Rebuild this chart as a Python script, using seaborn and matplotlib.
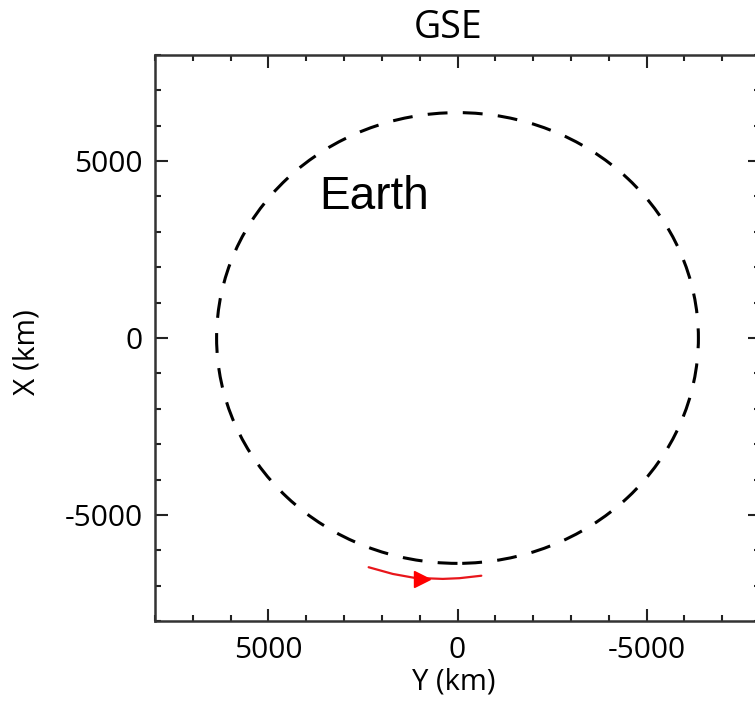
import matplotlib
matplotlib.use("Agg")
import matplotlib.pyplot as plt
import seaborn as sns
from matplotlib.patches import Circle
from matplotlib.ticker import MultipleLocator

# Earth outline (km)
earth_radius = 6371.0

# Spacecraft track (GSE, km)
track_y = [2350, 1710, 1140, 390, -50, -630]
track_x = [-6480, -6670, -6780, -6810, -6790, -6720]

# direction arrow position on the track
arrow_y = [950]
arrow_x = [-6800]

x_ticks = [5000, 0, -5000]
y_ticks = [5000, 0, -5000]

sns.set_style("ticks")
plt.rcParams["font.family"] = ["Open Sans", "DejaVu Sans"]
plt.rcParams["text.color"] = "black"
plt.rcParams["axes.labelcolor"] = "black"
plt.rcParams["xtick.labelcolor"] = "black"
plt.rcParams["ytick.labelcolor"] = "black"

fig = plt.figure(figsize=(7.55, 7.01), dpi=100)
ax = fig.add_axes([155 / 755, 80 / 701, 605 / 755, 566 / 701])

# Earth: dashed circle in data coordinates
ax.add_patch(Circle((0, 0), earth_radius, fill=False, edgecolor="black",
                    linewidth=2.2, linestyle=(0, (6.5, 5.0))))

sns.lineplot(x=track_y, y=track_x, sort=False, estimator=None,
             color="#e8161b", linewidth=1.6, ax=ax)
ax.plot(arrow_y, arrow_x, marker=">", markersize=12, color="#ff0000",
        linestyle="none")

ax.text(3650, 3640, "Earth", fontsize=33, family=["Liberation Sans", "DejaVu Sans"],
        ha="left", va="baseline", color="black")

ax.set_xlim(8000, -8000)
ax.set_ylim(-8000, 8000)
ax.set_xticks(x_ticks)
ax.set_yticks(y_ticks)
ax.set_xticklabels([str(t) for t in x_ticks])
ax.set_yticklabels([str(t) for t in y_ticks])
ax.xaxis.set_minor_locator(MultipleLocator(1000))
ax.yaxis.set_minor_locator(MultipleLocator(1000))
ax.tick_params(which="both", direction="in", top=True, right=True,
               color="#222222", width=1.5)
ax.tick_params(which="major", length=9, labelsize=21.5, pad=9)
ax.tick_params(axis="x", which="major", pad=10.5)
ax.tick_params(which="minor", length=4.5)

for sp in ax.spines.values():
    sp.set_linewidth(1.8)
    sp.set_color("#333333")

ax.set_xlabel("Y (km)", fontsize=21)
ax.set_ylabel("X (km)", fontsize=21.5)
ax.xaxis.set_label_coords(0.493, -0.083)
ax.yaxis.set_label_coords(-0.187, 0.475)
ax.set_title("GSE", fontsize=27, pad=12, x=0.484)

fig.savefig("out.png", dpi=100)
